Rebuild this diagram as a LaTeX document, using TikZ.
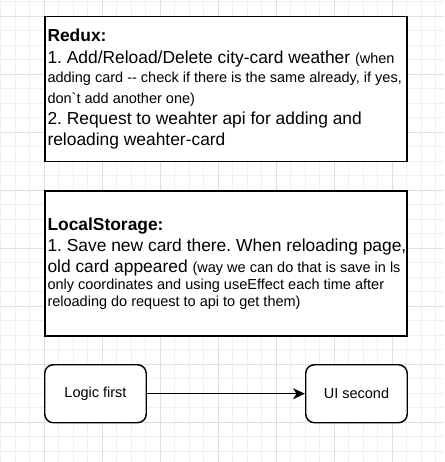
\documentclass[tikz,border=0pt]{standalone}
\usepackage{fontspec}
\setmainfont{Liberation Sans}[Ligatures=TeXOff]
\usetikzlibrary{arrows.meta}
\frenchspacing

\tikzset{
  minorgrid/.style={draw=gray!12, line width=0.8pt},
  majorgrid/.style={draw=gray!25, line width=0.8pt},
  notebox/.style={draw=black, fill=white, line width=1.5pt, rectangle, inner sep=0pt, anchor=north west},
  stepbox/.style={draw=black, fill=white, line width=1.45pt, rectangle, rounded corners=8.7pt,
    minimum width=101.5pt, minimum height=58pt, anchor=north west, inner sep=0pt},
  steplabel/.style={font=\fontsize{14.5}{17}\selectfont, inner sep=0pt},
  notetext/.style={anchor=base west, inner sep=0pt},
  flow/.style={draw=black, line width=1.5pt, -{Stealth[length=12pt, width=11pt, inset=3.5pt]}}
}

% one line of text with its own size and distance from the previous baseline
\newcommand{\bigline}[2][21]{{\fontsize{17.4}{#1}\selectfont #2\par}}
\newcommand{\smallline}[2][17.4]{{\fontsize{14.5}{#1}\selectfont #2\par}}
\newcommand{\smalltxt}[1]{{\fontsize{14.5}{17.4}\selectfont #1}}

\begin{document}
\begin{tikzpicture}[x=1pt, y=-1pt]
  \useasboundingbox (0,0) rectangle (444,462);
  \fill[white] (0,0) rectangle (444,462);

  % background grid
  \foreach \gx in {0.5,15,...,436} \draw[minorgrid] (\gx,0) -- (\gx,462);
  \foreach \gy in {1.5,16,...,452} \draw[minorgrid] (0,\gy) -- (444,\gy);
  \foreach \gx in {44,102,...,440} \draw[majorgrid] (\gx,0) -- (\gx,462);
  \foreach \gy in {16,74,...,452} \draw[majorgrid] (0,\gy) -- (444,\gy);

  % Redux notes
  \node[notebox, minimum width=362pt, minimum height=145pt] (redux) at (44,16) {};
  \node[notetext] (reduxtext) at (47.3,42) {\begin{minipage}[t]{370pt}
    \setlength{\parindent}{0pt}\setlength{\parskip}{0pt}\lineskiplimit=-100pt\raggedright
    \bigline{\bfseries Redux:}
    \bigline[21.5]{1. Add/Reload/Delete city-card weather \smalltxt{(when}}
    \smallline[19.5]{adding card -- check if there is the same already, if yes,}
    \smallline[21]{don`t add another one)}
    \bigline[21]{2. Request to weahter api for adding and}
    \bigline[20.5]{reloading weahter-card}
  \end{minipage}};

  % LocalStorage notes
  \node[notebox, minimum width=362pt, minimum height=145pt] (storage) at (44,190) {};
  \node[notetext] (storagetext) at (47.3,230) {\begin{minipage}[t]{370pt}
    \setlength{\parindent}{0pt}\setlength{\parskip}{0pt}\lineskiplimit=-100pt\raggedright
    \bigline{\bfseries LocalStorage:}
    \bigline[21]{1. Save new card there. When reloading page,}
    \bigline[21.5]{old card appeared \smalltxt{(way we can do that is save in ls}}
    \smallline[17.4]{only coordinates and using useEffect each time after}
    \smallline[17]{reloading do request to api to get them)}
  \end{minipage}};

  % order of work
  \node[stepbox] (logic) at (44,364) {};
  \node[steplabel] (logiclabel) at (logic.center) {Logic first};
  \node[stepbox] (ui) at (305,364) {};
  \node[steplabel] (uilabel) at (ui.center) {UI second};
  \draw[flow] (logic.east) -- (ui.west);
\end{tikzpicture}
\end{document}
